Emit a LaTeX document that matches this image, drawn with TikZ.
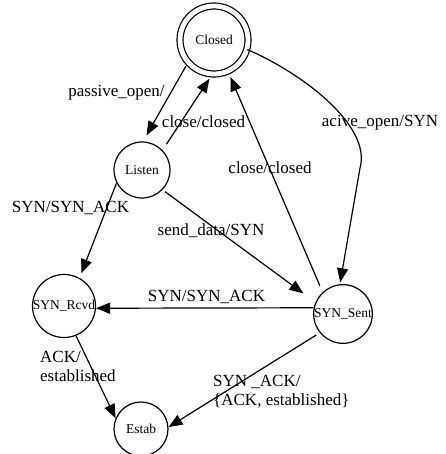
\documentclass[tikz,border=0pt]{standalone}
\usepackage{fontspec}
\setmainfont{Liberation Serif}
\usetikzlibrary{arrows.meta}
\tikzset{
  state/.style={draw, circle, line width=1.2pt, inner sep=0pt, minimum size=56pt,
    font=\fontsize{13.5}{15}\selectfont},
  accept/.style={state, double, double distance=4.8pt, minimum size=68pt},
  lbl/.style={font=\fontsize{17}{19}\selectfont, inner sep=0pt},
  trans/.style={line width=1.2pt, -{Triangle[length=14pt,width=11pt]}},
}
\begin{document}
\begin{tikzpicture}[x=1pt,y=1pt]
\useasboundingbox (0,0) rectangle (445,-454);
% states
\node[accept] (closed) at (214,-40) {Closed};
\node[state] (listen) at (142,-170) {Listen};
\node[state] (rcvd) at (64,-306) {SYN\_Rcvd};
\node[state] (sent) at (343,-314) {SYN\_Sent};
\node[state, minimum size=54pt] (estab) at (141,-429) {Estab};
\coordinate (bend) at (360,-168);
% transitions
\draw[trans, shorten <=4pt, shorten >=7pt] (closed.221) -- (listen.88);
\draw[trans, shorten <=7pt, shorten >=5pt] (listen.44) -- (closed.267);
\draw[trans, shorten <=7pt, shorten >=6pt] (sent.133) -- (closed.294);
\draw[trans, shorten >=2pt] (closed.344) .. controls (300,-72) and (372,-125) .. (bend) -- (sent.96);
\draw[trans, shorten >=5pt] (listen.207) -- (rcvd.61);
\draw[trans, shorten <=3pt, shorten >=15pt] (listen.316) -- (sent.157);
\draw[trans] (sent.168) -- (rcvd.356);
\draw[trans] (rcvd.292) -- (estab.157);
\draw[trans, shorten <=4pt] (sent.219) -- (estab.4);
% labels
\node[lbl] (l1) at (116.5,-93) {passive\_open/};
\node[lbl] (l2) at (203.5,-122) {close/closed};
\node[lbl] (l3) at (270,-168) {close/closed};
\node[lbl] (l4) at (380,-123) {acive\_open/SYN};
\node[lbl] (l5) at (70.5,-208) {SYN/SYN\_ACK};
\node[lbl] (l6) at (211,-231) {send\_data/SYN};
\node[lbl] (l7) at (206.5,-297) {SYN/SYN\_ACK};
\node[lbl, anchor=west, align=left] (l8) at (40,-366.5) {ACK/\\established};
\node[lbl, anchor=west, align=left] (l9) at (213,-392) {SYN \_ACK/\\\{ACK, established\}};
\end{tikzpicture}
\end{document}
